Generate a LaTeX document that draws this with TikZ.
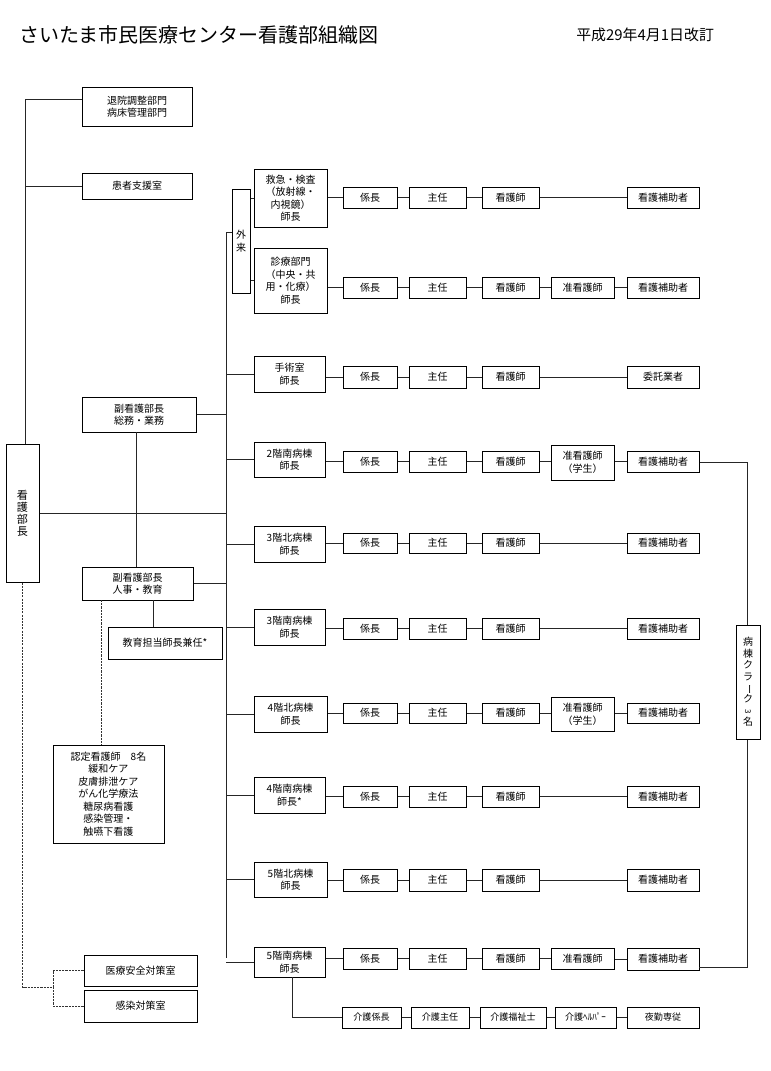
\documentclass[tikz,border=0pt]{standalone}
\usepackage{fontspec}
\usepackage{graphicx}
\setmainfont{Noto Sans CJK JP}
\usetikzlibrary{calc}
\tikzset{
 box/.style={draw=black, line width=0.75pt, fill=white, inner sep=0pt, align=center, font=\fontsize{7.5}{9.4}\selectfont},
 ln/.style={line width=0.7pt, draw=black!85},
 dl/.style={line width=0.7pt, draw=black!80, dash pattern=on 1.6pt off 0.8pt},
}
\newcommand\bx[6]{\node[box, minimum width={(#4-#2)*0.75pt}, minimum height={(#5-#3)*0.75pt}] (#1) at ({(#2+#4)/2},{(#3+#5)/2}) {#6};}
\newcommand\corerow[3]{%
 \bx{K#1}{343}{#2}{397}{#3}{係長}
 \bx{S#1}{409}{#2}{466}{#3}{主任}
 \bx{N#1}{482}{#2}{539}{#3}{看護師}
 \draw[ln] (L#1.east |- K#1.west) -- (K#1.west);
 \draw[ln] (K#1) -- (S#1);
 \draw[ln] (S#1) -- (N#1);
}
\newcommand\plainend[3]{%
 \bx{H#1}{627}{#2}{699}{#3}{看護補助者}
 \draw[ln] (N#1) -- (H#1);
}
\newcommand\junend[6]{% idx, y1, y2, jy1, jy2, jtext
 \bx{J#1}{551}{#4}{614}{#5}{#6}
 \bx{H#1}{627}{#2}{699}{#3}{看護補助者}
 \draw[ln] (N#1.east) -- (N#1.east -| J#1.west);
 \draw[ln] (J#1.east |- H#1.west) -- (H#1.west);
}
\begin{document}
\begin{tikzpicture}[x=0.75pt,y=-0.75pt]
\fill[white] (0,0) rectangle (771,1071);
\useasboundingbox (0,0) rectangle (771,1071);

% titles
\node[anchor=west, inner sep=0pt, font=\fontsize{15}{18}\selectfont] (title) at (19,35) {さいたま市民医療センター看護部組織図};
\node[anchor=west, inner sep=0pt, font=\fontsize{11.2}{13}\selectfont] (date) at (576,35) {平成29年4月1日改訂};

% trunk
\coordinate (ttop) at (226,232);
\coordinate (tbot) at (226,958);
\draw[ln] (ttop) -- (tbot);

% left column
\bx{T1}{82}{87}{192}{126}{退院調整部門\\病床管理部門}
\bx{T2}{82}{173}{192}{199}{患者支援室}
\node[box, font=\fontsize{8.3}{9}\selectfont, minimum width={33*0.75pt}, minimum height={138*0.75pt}] (HB) at (22.5,513) {看\\護\\部\\長};
\coordinate (lt) at (25,99);
\draw[ln] (T1.west |- lt) -- (lt) -- (lt |- HB.north);
\draw[ln] (T2.west) -- (T2.west -| lt);
\draw[ln] (HB.east) -- (HB.east -| ttop);

\bx{V1}{82}{397}{196}{432}{副看護部長\\総務・業務}
\bx{V2}{82}{567}{193}{600}{副看護部長\\人事・教育}
\draw[ln] (V1.east) -- (V1.east -| ttop);
\draw[ln] (V2.east) -- (V2.east -| ttop);
\coordinate (vx) at (136,432);
\draw[ln] (vx) -- (vx |- V2.north);
\bx{ED}{108}{627}{222}{659}{教育担当師長兼任*}
\coordinate (ex) at (153,600);
\draw[ln] (ex) -- (ex |- ED.north);
\bx{NT}{53}{745}{164}{843}{認定看護師　8名\\緩和ケア\\皮膚排泄ケア\\がん化学療法\\糖尿病看護\\感染管理・\\触嚥下看護}
\coordinate (dx) at (101,600);
\draw[dl] (dx) -- (dx |- NT.north);

\bx{A1}{84}{955}{197}{986}{医療安全対策室}
\bx{A2}{84}{990}{197}{1022}{感染対策室}
\coordinate (dj) at (53,987);
\draw[dl] (HB.south) |- (dj);
\draw[dl] (A1.west) -| (dj);
\draw[dl] (A2.west) -| (dj);

% outpatient
\bx{GA}{232}{189}{250}{293}{外\\来}
\draw[ln] (ttop) -- (ttop -| GA.west);
\bx{L1}{254}{169}{327}{227}{救急・検査\\（放射線・\\内視鏡）\\師長}
\bx{L2}{254}{248}{327}{313}{診療部門\\（中央・共\\用・化療）\\師長}
\draw[ln] (GA.east |- L1.west) -- (L1.west);
\draw[ln] (GA.east |- L2.west) -- (L2.west);

\corerow{1}{187}{208}
\plainend{1}{187}{208}
\corerow{2}{277}{298}
\junend{2}{277}{298}{277}{298}{准看護師}

% operating room
\bx{L3}{254}{356}{325}{392}{手術室\\師長}
\draw[ln] (L3.west) -- (L3.west -| ttop);
\corerow{3}{366}{388}
\bx{H3}{627}{366}{699}{388}{委託業者}
\draw[ln] (N3) -- (H3);

% wards
\bx{L4}{254}{442}{325}{477}{2階南病棟\\師長}
\bx{L5}{254}{526}{325}{562}{3階北病棟\\師長}
\bx{L6}{254}{609}{325}{645}{3階南病棟\\師長}
\bx{L7}{254}{696}{327}{732}{4階北病棟\\師長}
\bx{L8}{254}{777}{325}{813}{4階南病棟\\師長*}
\bx{L9}{254}{862}{327}{897}{5階北病棟\\師長}
\bx{L10}{254}{947}{325}{977}{5階南病棟\\師長}
\foreach \i in {4,...,10} {\draw[ln] (L\i.west) -- (L\i.west -| ttop);}

\corerow{4}{451}{472}
\junend{4}{451}{472}{445}{480}{准看護師\\（学生）}
\corerow{5}{533}{553}
\plainend{5}{533}{553}
\corerow{6}{618}{639}
\plainend{6}{618}{639}
\corerow{7}{703}{723}
\junend{7}{703}{723}{697}{731}{准看護師\\（学生）}
\corerow{8}{786}{807}
\plainend{8}{786}{807}
\corerow{9}{869}{891}
\plainend{9}{869}{891}
\corerow{10}{948}{969}
\junend{10}{948}{970}{948}{969}{准看護師}

% care workers
\tikzset{kbox/.style={box, font=\fontsize{6.8}{8}\selectfont}}
\foreach \n/\a/\b/\t in {C1/342/401/介護係長, C2/411/469/介護主任, C3/480/546/介護福祉士, C4/555/616/介護ﾍﾙﾊﾟｰ, C5/627/699/夜勤専従}
 {\node[kbox, minimum width={(\b-\a)*0.75pt}, minimum height={21*0.75pt}] (\n) at ({(\a+\b)/2},1017.5) {\t};}
\draw[ln] (C1) -- (C2);
\draw[ln] (C2) -- (C3);
\draw[ln] (C3) -- (C4);
\draw[ln] (C4) -- (C5);
\coordinate (kd) at (292,977);
\draw[ln] (kd) |- (C1.west);

% ward clerk line
\coordinate (rv) at (747,462);
\coordinate (h10c) at (699,967);
\draw[ln] (H4.east |- rv) -- (rv) -- (rv |- h10c) -- (h10c);
\node[box, font=\fontsize{7.5}{8.6}\selectfont, minimum width={24*0.75pt}, minimum height={114*0.75pt}] (CL) at (748,682) {病\\棟\\ク\\ラ\\\rotatebox[origin=c]{-90}{ー}\\ク\\\rotatebox[origin=c]{-90}{\fontsize{6}{6}\selectfont 3}\\名};
\end{tikzpicture}
\end{document}
